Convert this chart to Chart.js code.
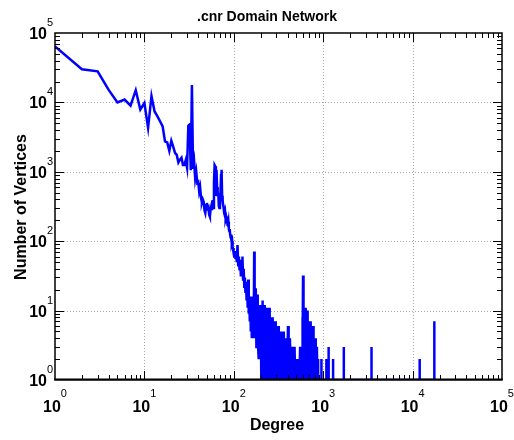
<!DOCTYPE html>
<html>
<head>
<meta charset="utf-8">
<script src="https://cdn.jsdelivr.net/npm/chart.js@4/dist/chart.umd.min.js"></script>
<style>
  html, body { margin: 0; padding: 0; background: #fff; }
  #wrap { width: 514px; height: 440px; }
</style>
</head>
<body>
<div id="wrap"><canvas id="c" width="514" height="440"></canvas></div>
<script>
// Degree distribution of the .cnr domain graph: degree -> number of vertices.
// Low degrees, one entry per degree
const headDegrees = [
  1, 2, 3, 4, 5, 6, 7, 8, 9, 10,
  11, 12, 13, 14, 15, 16, 17, 18, 19, 20,
  21, 22, 23, 24, 25, 26, 27, 28, 29, 30,
  31, 32, 33, 34, 35, 36, 37, 38, 39, 40,
  41, 42, 43, 44, 45, 46, 47, 48, 49, 50,
  51, 52, 53, 54, 55, 56, 57, 58, 59, 60,
  61, 62, 63, 64, 65, 66, 67, 68, 69, 70,
  71, 72, 73, 74, 75, 76, 77, 78, 79, 80,
  81, 82, 83, 84, 85, 86, 87, 88, 89, 90,
  91, 92, 93, 94, 95, 96, 97, 98, 99, 100
];
const headCounts = [
  64000, 30000, 28000, 15000, 10000, 11000, 9000, 15000, 7900, 9800,
  4300, 12400, 7400, 6300, 5300, 4500, 2750, 2650, 2000, 2800,
  2300, 1870, 1750, 1360, 1500, 1600, 1250, 1250, 1470, 1150,
  4600, 4800, 1050, 17800, 1100, 1400, 800, 1000, 700, 720,
  520, 600, 420, 360, 400, 370, 280, 255, 330, 355,
  300, 310, 240, 225, 290, 320, 280, 390, 300, 700,
  1250, 1200, 450, 1070, 600, 440, 500, 320, 300, 320,
  500, 900, 1070, 450, 390, 330, 300, 255, 240, 260,
  215, 230, 215, 200, 180, 165, 190, 150, 140, 150,
  125, 110, 120, 105, 95, 100, 85, 75, 80, 68
];
// Noisy tail and the isolated hubs
const tailDegrees = [
  101, 103, 105, 106, 108, 110, 112, 114, 116, 118,
  120, 122, 124, 125, 127, 129, 131, 133, 135, 137,
  139, 141, 143, 145, 147, 149, 151, 153, 155, 157,
  159, 161, 163, 165, 167, 169, 171, 173, 175, 177,
  179, 181, 183, 185, 187, 189, 191, 193, 195, 197,
  199, 201, 203, 205, 207, 209, 211, 213, 215, 217,
  219, 221, 223, 225, 227, 229, 231, 233, 235, 237,
  239, 241, 243, 245, 247, 249, 251, 253, 255, 257,
  260, 263, 266, 269, 272, 275, 278, 281, 284, 287,
  290, 293, 296, 299, 302, 305, 308, 311, 314, 317,
  320, 324, 328, 332, 336, 340, 344, 348, 352, 356,
  360, 364, 368, 372, 376, 380, 385, 390, 395, 400,
  404, 408, 413, 418, 424, 430, 436, 442, 448, 455,
  462, 470, 478, 486, 494, 503, 512, 522, 532, 542,
  552, 562, 572, 580, 586, 590, 595, 600, 605, 610,
  616, 622, 628, 634, 640, 646, 652, 658, 664, 670,
  677, 684, 691, 698, 705, 712, 720, 728, 736, 744,
  752, 760, 770, 780, 790, 800, 810, 820, 830, 840,
  850, 860, 876, 877, 878, 954, 955, 956, 1084, 1085,
  1086, 1149, 1150, 1151, 1289, 1290, 1291, 1699, 1700, 1701,
  3469, 3470, 3471, 11990, 12000, 12010, 17490, 17500, 17510
];
const tailCounts = [
  60, 72, 55, 68, 50, 88, 45, 60, 38, 54,
  31, 48, 35, 60, 28, 40, 22, 30, 18, 26,
  14, 22, 11, 28, 9, 16, 7, 14, 5, 16,
  4, 12, 5, 14, 4, 71, 6, 18, 4, 21,
  3, 14, 4, 17, 3, 11, 2, 12, 3, 10,
  2, 11, 1, 12, 3, 14, 1, 11, 2, 9,
  1, 12, 3, 10, 1, 8, 2, 11, 1, 9,
  3, 8, 1, 10, 2, 11, 1, 7, 2, 8,
  1, 7, 2, 8, 1, 6, 2, 7, 1, 5,
  2, 7, 1, 5, 2, 6, 1, 4, 2, 6,
  1, 5, 1, 4, 2, 5, 1, 4, 1, 3,
  1, 5, 2, 4, 1, 3, 1, 4, 2, 3,
  6, 1, 3, 1, 4, 2, 3, 1, 3, 1,
  2, 1, 3, 1, 2, 1, 2, 1, 2, 1,
  3, 1, 2, 1, 8, 3, 32, 2, 11, 3,
  10, 1, 11, 3, 10, 1, 8, 2, 10, 1,
  7, 2, 7, 1, 6, 2, 7, 1, 6, 2,
  5, 1, 6, 1, 4, 1, 4, 1, 3, 1,
  3, 1, 1, 2, 1, 1, 2, 1, 1, 2,
  1, 1, 3, 1, 1, 2, 1, 1, 3, 1,
  1, 3, 1, 1, 2, 1, 1, 7, 1
];

// Decade positions on both axes and the exponents written beside them
const decadeValues = [1, 10, 100, 1000, 10000, 100000];
const xTickExponents = ['0', '1', '2', '3', '4', '5'];
const yTickExponents = ['0', '1', '2', '3', '4', '5'];

const titleText = '.cnr Domain Network';
const xTitleText = 'Degree';
const yTitleText = 'Number of Vertices';

const degrees = headDegrees.concat(tailDegrees);
const counts = headCounts.concat(tailCounts);
const points = degrees.map((d, i) => ({ x: d, y: counts[i] }));

const FONT = '"Liberation Sans", Arial, Helvetica, sans-serif';

// Dotted grid at whole decades, drawn under the curve
const gridPlugin = {
  id: 'decadeGrid',
  beforeDatasetsDraw(chart) {
    const { ctx, chartArea: a, scales: { x, y } } = chart;
    ctx.save();
    ctx.strokeStyle = '#a8a8a8';
    ctx.lineWidth = 1;
    ctx.setLineDash([1, 2]);
    decadeValues.slice(1, -1).forEach(v => {
      const px = Math.round(x.getPixelForValue(v)) + 0.5;
      ctx.beginPath(); ctx.moveTo(px, a.top); ctx.lineTo(px, a.bottom); ctx.stroke();
      const py = Math.round(y.getPixelForValue(v)) + 0.5;
      ctx.beginPath(); ctx.moveTo(a.left, py); ctx.lineTo(a.right, py); ctx.stroke();
    });
    ctx.restore();
  }
};

// Box frame, inward ticks on all four sides, exponent labels and titles
const framePlugin = {
  id: 'boxFrame',
  afterDatasetsDraw(chart) {
    const { ctx, chartArea: a, scales: { x, y } } = chart;
    ctx.save();
    ctx.strokeStyle = '#000';
    ctx.lineWidth = 1.5;
    ctx.beginPath();
    ctx.moveTo(a.left, a.bottom);
    ctx.lineTo(a.left, a.top);
    ctx.lineTo(a.right, a.top);
    ctx.lineTo(a.right, a.bottom);
    ctx.stroke();
    // the x axis sits on top of the count-1 baseline of the curve
    ctx.lineWidth = 2.2;
    ctx.beginPath();
    ctx.moveTo(a.left - 0.75, a.bottom - 0.35);
    ctx.lineTo(a.right + 0.75, a.bottom - 0.35);
    ctx.stroke();

    ctx.lineWidth = 1;
    const minorLen = 5, majorLen = 9;
    for (let k = 0; k < decadeValues.length - 1; k++) {
      for (let m = 1; m <= 9; m++) {
        if (m === 1 && k === 0) continue;
        const v = m * decadeValues[k];
        const len = m === 1 ? majorLen : minorLen;
        const px = Math.round(x.getPixelForValue(v)) + 0.5;
        ctx.beginPath();
        ctx.moveTo(px, a.bottom); ctx.lineTo(px, a.bottom - len);
        ctx.moveTo(px, a.top); ctx.lineTo(px, a.top + len);
        ctx.stroke();
        const py = Math.round(y.getPixelForValue(v)) + 0.5;
        ctx.beginPath();
        ctx.moveTo(a.left, py); ctx.lineTo(a.left + len, py);
        ctx.moveTo(a.right, py); ctx.lineTo(a.right - len, py);
        ctx.stroke();
      }
    }

    ctx.fillStyle = '#000';
    const baseFont = 'bold 16px ' + FONT;
    const supFont = '11px ' + FONT;

    // x-axis labels: "10" with a raised exponent, centred on the decade
    decadeValues.forEach((v, i) => {
      const px = x.getPixelForValue(v);
      ctx.font = baseFont;
      const w1 = ctx.measureText('10').width;
      ctx.font = supFont;
      const w2 = ctx.measureText(xTickExponents[i]).width;
      const start = px - (w1 + w2) / 2;
      ctx.textAlign = 'left';
      ctx.textBaseline = 'alphabetic';
      ctx.font = baseFont;
      ctx.fillText('10', start, a.bottom + 32);
      ctx.font = supFont;
      ctx.fillText(xTickExponents[i], start + w1, a.bottom + 17);
    });

    // y-axis labels
    decadeValues.forEach((v, i) => {
      const py = y.getPixelForValue(v);
      ctx.font = baseFont;
      ctx.textAlign = 'right';
      ctx.textBaseline = 'alphabetic';
      ctx.fillText('10', a.left - 8, py + 6);
      ctx.font = supFont;
      ctx.textAlign = 'left';
      ctx.fillText(yTickExponents[i], a.left - 8, py - 7);
    });

    // titles
    ctx.font = 'bold 14px ' + FONT;
    ctx.textAlign = 'center';
    ctx.textBaseline = 'alphabetic';
    ctx.fillText(titleText, 267, 21);

    ctx.font = 'bold 16px ' + FONT;
    ctx.fillText(xTitleText, 277, 430);

    ctx.save();
    ctx.translate(26, 207);
    ctx.rotate(-Math.PI / 2);
    ctx.fillText(yTitleText, 0, 0);
    ctx.restore();

    ctx.restore();
  }
};

new Chart(document.getElementById('c'), {
  type: 'line',
  data: {
    datasets: [{
      data: points,
      borderColor: '#0000ff',
      borderWidth: 2.5,
      pointRadius: 0,
      tension: 0,
      fill: false,
      clip: { left: 0, top: 0, right: 0, bottom: 0 }
    }]
  },
  options: {
    responsive: false,
    animation: false,
    devicePixelRatio: 1,
    layout: { padding: { left: 55, top: 33, right: 12, bottom: 60 } },
    plugins: { legend: { display: false }, tooltip: { enabled: false }, title: { display: false } },
    scales: {
      x: { type: 'logarithmic', min: 1, max: 100000, display: false },
      y: { type: 'logarithmic', min: 1, max: 100000, display: false }
    }
  },
  plugins: [gridPlugin, framePlugin]
});
</script>
</body>
</html>
